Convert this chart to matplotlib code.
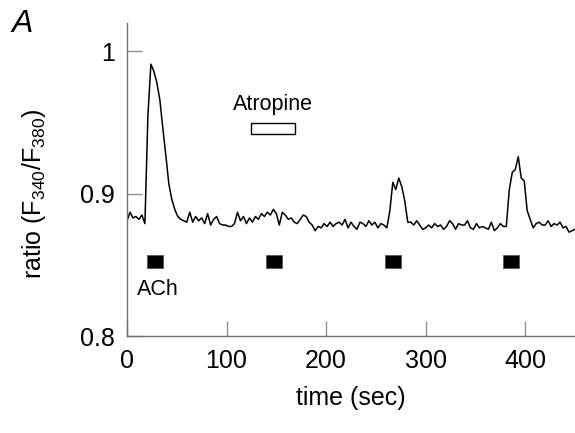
import numpy as np
import matplotlib
matplotlib.use("Agg")
import matplotlib.pyplot as plt
from matplotlib.patches import Rectangle

plt.rcParams['font.family'] = ['Liberation Sans', 'DejaVu Sans']
plt.rcParams['mathtext.fontset'] = 'custom'
plt.rcParams['mathtext.rm'] = 'Liberation Sans'
plt.rcParams['mathtext.it'] = 'Liberation Sans:italic'
plt.rcParams['mathtext.bf'] = 'Liberation Sans:bold'

dt = 3  # seconds between samples
ratio = [
    0.881, 0.887, 0.883, 0.884, 0.882, 0.885, 0.879, 0.955, 0.991, 0.986,
    0.978, 0.966, 0.946, 0.927, 0.907, 0.896, 0.889, 0.884, 0.882, 0.881,
    0.880, 0.887, 0.880, 0.884, 0.881, 0.883, 0.879, 0.886, 0.878, 0.882,
    0.884, 0.879, 0.878, 0.878, 0.877, 0.877, 0.879, 0.887, 0.881, 0.884,
    0.879, 0.883, 0.880, 0.884, 0.882, 0.886, 0.884, 0.887, 0.885, 0.889,
    0.886, 0.878, 0.887, 0.885, 0.882, 0.883, 0.880, 0.879, 0.882, 0.885,
    0.884, 0.880, 0.878, 0.874, 0.877, 0.876, 0.879, 0.877, 0.880, 0.877,
    0.879, 0.880, 0.878, 0.882, 0.876, 0.880, 0.877, 0.875, 0.880, 0.879,
    0.877, 0.881, 0.878, 0.880, 0.876, 0.879, 0.878, 0.876, 0.888, 0.908,
    0.903, 0.911, 0.905, 0.895, 0.880, 0.880, 0.878, 0.881, 0.878, 0.875,
    0.876, 0.878, 0.876, 0.879, 0.877, 0.878, 0.875, 0.877, 0.881, 0.879,
    0.875, 0.879, 0.878, 0.878, 0.881, 0.876, 0.875, 0.879, 0.876, 0.877,
    0.876, 0.875, 0.880, 0.874, 0.876, 0.879, 0.877, 0.877, 0.903, 0.915,
    0.917, 0.926, 0.911, 0.909, 0.888, 0.882, 0.876, 0.879, 0.880, 0.878,
    0.878, 0.881, 0.877, 0.879, 0.878, 0.880, 0.876, 0.877, 0.873, 0.874,
    0.875,
]
time = np.arange(len(ratio)) * dt

ach_start = [20, 140, 259, 378]
ach_dur = 16
ach_low, ach_high = 0.848, 0.857
atropine_start, atropine_end = 125, 169
atropine_low, atropine_high = 0.942, 0.950

xticks = [0, 100, 200, 300, 400]
yticks = [0.8, 0.9, 1.0]
yticklabels = ['0.8', '0.9', '1']

fig = plt.figure(figsize=(5.75, 4.33), dpi=100)
ax = fig.add_axes([127/575, 1-336/433, 448/575, (336-23)/433])

ax.plot(time, ratio, color='black', lw=1.1)

for s in ach_start:
    ax.add_patch(Rectangle((s, ach_low), ach_dur, ach_high-ach_low,
                           facecolor='black', edgecolor='#555555', lw=0.6))
ax.add_patch(Rectangle((atropine_start, atropine_low), atropine_end-atropine_start,
                       atropine_high-atropine_low, facecolor='white',
                       edgecolor='black', lw=1.0))
ax.text(147, 0.963, 'Atropine', ha='center', va='center', fontsize=15.5)
ax.text(31, 0.833, 'ACh', ha='center', va='center', fontsize=15.5)

ax.set_xlim(0, 450)
ax.set_ylim(0.8, 1.02)
ax.set_xticks(xticks)
ax.set_yticks(yticks)
ax.set_yticklabels(yticklabels)
ax.tick_params(direction='in', length=11, width=1, color='#909090',
               labelsize=18, pad=9)
for side in ['top', 'right']:
    ax.spines[side].set_visible(False)
for side in ['left', 'bottom']:
    ax.spines[side].set_color('#707070')
    ax.spines[side].set_linewidth(1)

ax.set_xlabel('time (sec)', fontsize=18, labelpad=10)
ax.set_ylabel(r'ratio (F$_{\mathregular{340}}$/F$_{\mathregular{380}}$)', fontsize=18)
ax.yaxis.set_label_coords(-0.176, 0.454)

fig.text(12/575, 1-24/433, 'A', fontsize=23, style='italic', va='center', ha='left')

fig.savefig('out.png', dpi=100)
